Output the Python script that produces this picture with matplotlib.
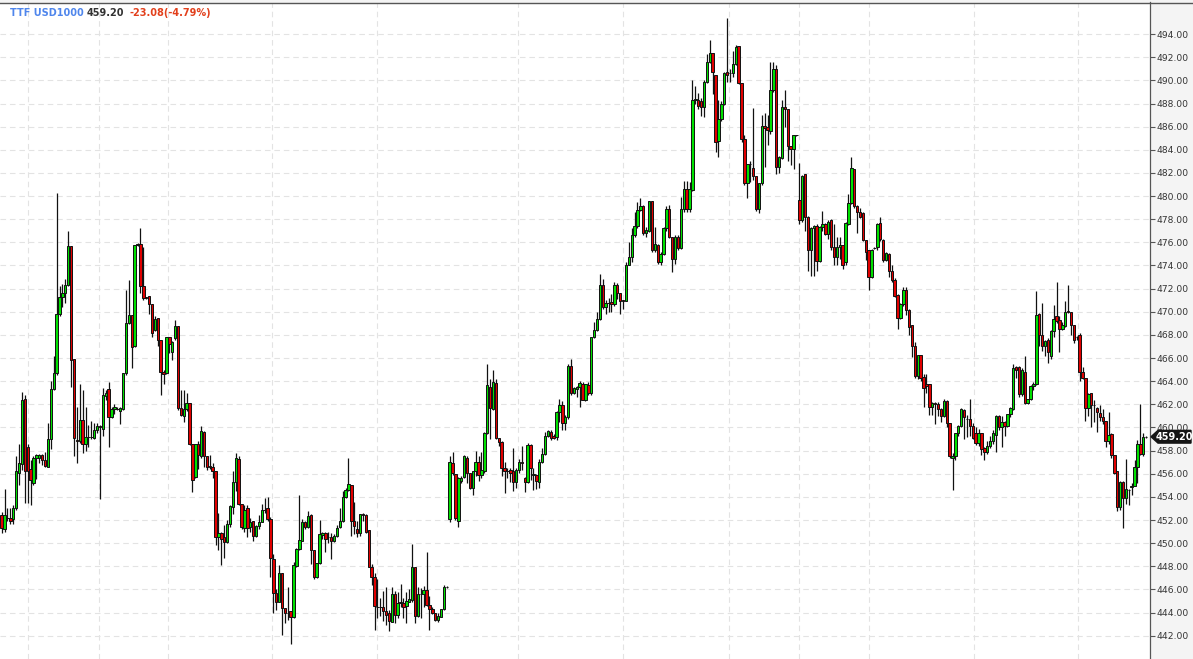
"""
TTF USD1000 candlestick chart, recreated with plain matplotlib.
"""

import matplotlib
matplotlib.use("Agg")
import matplotlib.pyplot as plt
import matplotlib.transforms as mtransforms
from matplotlib.lines import Line2D
from matplotlib.patches import Polygon
import numpy as np

# ── Data (one entry per candle) ───────────────────────────────────────────────

opens = [
    452.45, 451.2, 452.2, 452.2, 452.05, 453.0, 456.1, 456.85, 462.45, 458.35,
    456.4, 455.2, 457.35, 457.4, 457.6, 457.2, 456.6, 459.0, 463.3, 464.7,
    469.8, 471.25, 471.6, 472.3, 475.7, 465.9, 458.9, 458.8, 460.65, 458.55,
    459.15, 459.15, 459.05, 459.8, 460.1, 459.85, 462.7, 463.3, 460.9, 461.6,
    461.6, 461.45, 461.6, 464.7, 469.0, 469.7, 467.0, 475.75, 475.9, 472.2,
    471.3, 471.35, 470.7, 468.4, 469.5, 467.6, 464.8, 464.7, 467.8, 466.5,
    467.7, 468.8, 461.65, 461.0, 461.6, 462.15, 458.6, 455.75, 458.6, 457.55,
    459.65, 457.5, 456.7, 456.6, 456.2, 450.55, 450.85, 450.55, 450.1, 451.7,
    453.1, 455.3, 457.25, 453.4, 451.35, 453.0, 451.4, 451.9, 450.6, 451.5,
    451.85, 452.9, 453.0, 452.05, 448.6, 445.7, 444.95, 447.45, 444.4, 443.95,
    444.1, 443.6, 448.0, 449.5, 450.2, 451.8, 451.4, 452.45, 449.45, 447.1,
    448.3, 450.7, 450.85, 450.55, 450.55, 450.15, 450.6, 451.4, 451.9, 453.95,
    454.6, 455.0, 451.95, 451.2, 450.9, 452.5, 452.45, 451.1, 447.9, 447.05,
    444.5, 444.5, 444.5, 444.15, 444.0, 443.2, 445.6, 443.8, 444.8, 444.85,
    444.55, 444.95, 445.1, 447.9, 443.7, 445.65, 445.65, 445.95, 444.65, 444.3,
    443.95, 443.35, 443.65, 444.3, 446.2, 452.05, 456.9, 456.0, 451.9, 455.4,
    455.75, 457.4, 456.1, 454.75, 456.2, 456.98, 455.9, 456.2, 459.5, 463.5,
    461.6, 463.85, 459.05, 458.75, 456.5, 456.2, 456.3, 456.2, 455.3, 456.3,
    457.0, 455.6, 455.3, 458.5, 455.85, 455.9, 455.3, 457.05, 457.7, 459.3,
    459.58, 459.3, 459.2, 461.3, 461.9, 460.4, 460.9, 465.35, 462.95, 463.3,
    463.5, 463.8, 462.4, 463.7, 462.95, 467.8, 468.4, 469.4, 472.3, 470.4,
    470.8, 470.85, 470.7, 472.3, 471.6, 471.0, 470.95, 474.05, 474.7, 476.6,
    477.4, 478.8, 479.15, 476.8, 477.0, 479.55, 475.3, 475.8, 474.3, 475.0,
    477.2, 478.85, 476.5, 474.6, 476.5, 475.5, 478.9, 480.6, 478.9, 480.5,
    488.3, 488.3, 488.25, 487.7, 489.9, 491.6, 492.4, 490.5, 484.8, 486.7,
    488.0, 490.75, 490.65, 490.65, 491.4, 492.95, 489.75, 484.95, 481.1, 482.8,
    482.4, 481.7, 478.9, 481.1, 486.05, 486.0, 485.6, 489.2, 491.0, 482.5,
    483.3, 487.7, 487.5, 484.3, 484.1, 485.25, 479.65, 477.9, 481.9, 478.2,
    475.35, 477.2, 477.4, 474.4, 477.35, 477.6, 476.7, 477.9, 475.6, 474.7,
    475.6, 475.8, 474.3, 477.6, 479.4, 482.3, 479.1, 478.6, 478.55, 476.2,
    475.3, 473.0, 475.5, 475.6, 477.7, 476.2, 474.5, 474.98, 473.55, 472.75,
    471.45, 469.5, 470.7, 471.9, 470.15, 468.85, 467.0, 464.45, 466.25, 464.4,
    463.75, 463.75, 461.75, 462.1, 462.0, 461.6, 461.0, 462.25, 460.35, 457.35,
    457.5, 459.5, 460.1, 461.5, 460.7, 460.7, 460.1, 459.5, 458.7, 459.5,
    458.2, 457.9, 458.4, 458.8, 459.35, 461.0, 460.05, 460.5, 460.1, 461.15,
    461.6, 465.2, 465.2, 462.9, 464.8, 462.1, 462.5, 463.6, 463.8, 469.8,
    468.0, 467.0, 467.6, 466.2, 468.3, 469.6, 469.3, 468.5, 468.8, 470.1,
    470.0, 468.85, 467.8, 468.0, 464.82, 464.3, 461.65, 462.95, 461.9, 461.7,
    461.25, 460.9, 460.6, 458.85, 459.45, 457.6, 456.2, 453.15, 455.3, 453.9,
    454.6, 454.85, 454.95, 456.55, 458.6, 457.7, 459.15,
]

highs = [
    452.7, 454.65, 453.0, 453.0, 453.3, 457.5, 458.55, 463.1, 462.8, 458.6,
    457.2, 457.5, 457.7, 457.7, 457.7, 457.85, 460.4, 464.0, 466.2, 480.25,
    472.2, 472.4, 472.8, 477.0, 475.7, 465.9, 461.8, 463.8, 463.25, 461.8,
    460.2, 460.6, 460.4, 460.35, 460.2, 463.4, 463.25, 463.9, 461.8, 462.0,
    461.8, 461.8, 464.75, 471.9, 472.75, 469.7, 475.75, 475.95, 477.2, 475.6,
    471.3, 471.35, 470.7, 469.6, 469.5, 467.6, 464.95, 467.8, 467.8, 467.45,
    469.25, 468.8, 463.25, 463.25, 462.95, 462.15, 458.6, 458.6, 458.8, 460.1,
    459.7, 457.5, 457.6, 456.9, 456.2, 452.6, 451.0, 451.6, 452.0, 453.3,
    456.2, 457.8, 457.5, 453.4, 453.3, 453.3, 452.2, 451.9, 451.6, 452.4,
    453.4, 453.9, 453.95, 452.3, 449.1, 446.0, 448.1, 447.45, 444.4, 446.2,
    444.1, 448.4, 449.6, 454.2, 452.1, 451.9, 452.8, 452.5, 449.45, 448.3,
    452.0, 450.95, 451.0, 451.0, 450.9, 450.8, 451.6, 453.0, 454.5, 454.8,
    457.4, 455.0, 453.6, 451.9, 452.5, 452.6, 452.5, 451.1, 448.2, 447.4,
    446.9, 445.3, 445.9, 446.2, 444.2, 446.2, 445.9, 445.8, 446.5, 445.3,
    445.8, 446.0, 449.9, 447.9, 446.2, 446.1, 446.3, 449.2, 445.4, 444.5,
    444.0, 444.0, 444.35, 446.4, 446.3, 457.5, 457.9, 456.0, 455.7, 455.8,
    457.6, 457.5, 456.1, 456.2, 458.0, 457.5, 457.9, 459.6, 465.5, 464.2,
    465.0, 464.2, 459.1, 458.8, 457.0, 456.5, 456.5, 458.2, 456.5, 457.3,
    458.4, 455.7, 458.7, 458.6, 456.5, 456.0, 457.3, 458.2, 459.6, 459.8,
    459.8, 459.4, 461.4, 462.5, 462.3, 461.1, 465.5, 465.9, 463.5, 463.6,
    464.0, 463.9, 463.8, 463.9, 467.8, 469.1, 470.0, 473.3, 472.85, 471.0,
    471.2, 471.5, 472.55, 472.5, 471.6, 471.0, 474.3, 476.0, 477.2, 478.6,
    479.5, 479.8, 479.2, 477.3, 479.6, 479.6, 477.3, 475.9, 475.2, 477.3,
    479.1, 479.2, 476.5, 476.6, 476.6, 479.9, 481.3, 481.3, 481.2, 490.0,
    489.5, 488.9, 488.5, 490.0, 492.3, 493.5, 492.4, 490.5, 488.3, 488.2,
    490.7, 495.4, 491.0, 492.5, 493.1, 493.0, 489.75, 485.3, 482.8, 483.0,
    487.6, 481.7, 481.15, 487.0, 487.2, 487.0, 491.6, 491.6, 491.3, 483.5,
    488.3, 489.2, 487.5, 484.3, 485.3, 485.3, 482.9, 481.8, 481.9, 478.3,
    477.3, 477.5, 477.6, 477.4, 478.7, 477.7, 477.9, 478.0, 477.6, 476.5,
    476.5, 475.8, 477.8, 480.2, 483.4, 482.35, 479.2, 479.0, 478.6, 476.2,
    475.3, 475.4, 475.6, 477.7, 478.2, 476.3, 475.2, 475.1, 474.0, 472.9,
    471.5, 470.75, 472.1, 472.1, 470.2, 468.9, 467.4, 466.3, 466.3, 464.6,
    464.6, 463.8, 462.2, 462.2, 462.2, 461.7, 462.5, 462.35, 460.4, 457.8,
    459.5, 460.2, 461.65, 461.6, 461.1, 462.45, 460.4, 460.0, 459.9, 459.55,
    458.3, 458.8, 459.3, 459.8, 461.1, 461.1, 461.0, 460.6, 461.2, 461.8,
    465.5, 465.3, 465.3, 465.1, 466.2, 462.5, 463.7, 463.9, 471.8, 469.9,
    470.8, 467.6, 467.7, 468.4, 470.6, 472.6, 469.6, 469.1, 470.9, 472.3,
    470.0, 468.9, 467.9, 468.2, 465.2, 464.3, 463.0, 463.0, 462.4, 461.8,
    461.9, 461.6, 460.6, 461.3, 459.5, 457.6, 456.25, 455.4, 455.35, 457.3,
    454.7, 455.2, 457.2, 458.9, 462.0, 459.5, 459.3,
]

lows = [
    450.9, 451.0, 451.9, 451.7, 451.7, 452.9, 455.0, 456.3, 453.45, 453.45,
    453.3, 455.05, 455.55, 456.9, 456.8, 456.55, 456.55, 458.1, 463.2, 464.55,
    469.65, 470.45, 470.8, 472.25, 463.5, 457.5, 456.9, 458.65, 457.8, 458.0,
    458.35, 459.0, 459.0, 459.5, 453.8, 459.25, 462.4, 458.35, 460.85, 461.2,
    461.5, 460.3, 461.5, 464.55, 468.95, 465.1, 466.95, 475.65, 471.6, 471.0,
    471.1, 469.8, 467.85, 468.3, 467.0, 462.8, 463.8, 464.6, 466.4, 465.85,
    467.6, 461.55, 461.0, 460.5, 461.4, 458.5, 454.45, 455.6, 456.4, 457.4,
    456.6, 456.3, 456.4, 455.6, 449.85, 449.4, 448.1, 448.7, 450.0, 451.4,
    452.5, 454.5, 453.3, 451.2, 451.0, 450.5, 451.0, 450.2, 450.5, 451.2,
    451.8, 452.6, 451.9, 447.1, 444.0, 444.2, 444.9, 442.1, 443.1, 443.4,
    441.3, 443.5, 447.9, 449.4, 450.2, 451.2, 451.3, 448.2, 446.9, 447.0,
    448.2, 450.4, 449.2, 450.0, 448.6, 450.1, 450.5, 451.3, 451.8, 453.9,
    454.5, 450.6, 450.8, 450.5, 450.6, 451.9, 450.9, 447.9, 446.4, 442.5,
    443.5, 443.7, 443.3, 442.9, 442.4, 443.2, 443.1, 443.5, 444.5, 443.5,
    443.1, 444.9, 444.9, 443.1, 443.6, 443.5, 444.5, 444.6, 442.5, 443.9,
    443.3, 443.2, 443.6, 444.2, 446.1, 451.8, 455.9, 452.0, 451.4, 455.2,
    455.6, 455.2, 454.7, 454.2, 455.8, 455.4, 455.6, 456.1, 459.4, 459.0,
    461.5, 459.0, 458.4, 455.8, 454.3, 455.6, 455.3, 454.5, 454.8, 456.1,
    456.3, 454.4, 455.2, 455.5, 454.6, 454.7, 454.8, 456.9, 457.6, 459.2,
    458.9, 459.0, 458.9, 460.5, 459.8, 459.8, 460.7, 462.8, 462.9, 462.6,
    461.75, 462.4, 462.3, 462.8, 462.8, 467.7, 468.3, 469.3, 470.2, 469.8,
    470.0, 470.0, 470.5, 471.1, 469.8, 470.2, 470.95, 474.0, 474.3, 476.5,
    477.2, 478.7, 476.6, 476.5, 476.9, 475.2, 475.2, 474.1, 474.0, 474.9,
    477.0, 476.4, 473.4, 474.1, 475.3, 475.4, 478.6, 478.6, 478.6, 480.4,
    488.0, 487.5, 486.9, 486.8, 489.8, 491.5, 488.8, 483.8, 483.4, 486.5,
    487.9, 489.9, 489.9, 490.3, 491.3, 489.7, 484.7, 481.0, 479.8, 481.2,
    481.4, 478.7, 478.5, 481.0, 482.5, 484.4, 485.4, 489.0, 481.9, 482.0,
    483.2, 486.0, 483.0, 482.7, 482.3, 485.2, 477.6, 477.8, 477.0, 473.55,
    473.1, 473.1, 473.5, 474.3, 477.0, 476.6, 476.3, 475.3, 474.0, 474.0,
    474.6, 473.7, 474.0, 477.5, 479.3, 479.0, 476.85, 478.1, 476.1, 474.5,
    471.85, 472.9, 475.45, 475.3, 476.1, 474.3, 474.4, 473.0, 472.6, 471.3,
    468.5, 469.4, 470.5, 469.7, 468.0, 466.1, 464.3, 464.2, 464.0, 461.8,
    463.0, 461.1, 461.1, 460.3, 461.0, 460.5, 460.9, 460.0, 457.4, 454.6,
    457.2, 459.3, 460.0, 459.0, 459.2, 459.3, 459.0, 458.5, 458.4, 457.6,
    457.2, 457.7, 458.2, 458.6, 457.9, 459.8, 458.3, 459.3, 460.0, 460.9,
    461.5, 464.3, 462.6, 462.7, 462.0, 462.0, 462.4, 463.2, 463.7, 467.0,
    466.6, 466.2, 465.6, 465.9, 467.8, 469.0, 466.5, 468.4, 468.7, 469.9,
    468.0, 467.3, 467.6, 464.0, 464.2, 460.6, 461.0, 460.0, 460.5, 459.6,
    460.6, 460.3, 458.3, 458.6, 457.4, 456.0, 452.8, 452.9, 451.3, 453.4,
    453.3, 454.2, 454.9, 455.2, 457.6, 457.5, 459.1,
]

closes = [
    451.3, 452.45, 452.2, 451.95, 453.0, 456.25, 456.95, 462.4, 456.2, 456.2,
    455.45, 457.35, 457.6, 457.6, 457.2, 456.7, 459.0, 463.3, 464.7, 469.8,
    471.25, 471.65, 472.3, 475.7, 465.85, 459.05, 458.8, 460.65, 458.55, 459.15,
    459.15, 459.15, 459.8, 460.1, 460.05, 462.8, 463.0, 460.9, 461.6, 461.8,
    461.6, 461.7, 464.7, 469.05, 469.7, 466.95, 475.75, 475.85, 472.2, 471.2,
    471.15, 470.7, 468.2, 469.4, 467.55, 464.8, 464.6, 467.8, 467.2, 467.35,
    468.8, 461.65, 461.1, 461.6, 462.15, 458.6, 455.5, 458.6, 457.6, 459.7,
    457.5, 456.6, 456.55, 456.2, 450.55, 450.9, 450.4, 450.1, 451.7, 453.2,
    455.3, 457.35, 453.4, 451.4, 452.9, 451.3, 451.8, 450.6, 451.5, 451.85,
    452.9, 452.9, 452.05, 448.7, 445.7, 444.95, 447.45, 444.4, 443.95, 444.0,
    443.6, 448.1, 449.5, 450.3, 451.85, 451.4, 452.35, 449.4, 447.1, 448.3,
    450.8, 450.9, 450.4, 450.5, 450.2, 450.6, 451.35, 451.95, 453.95, 454.6,
    455.1, 451.95, 451.5, 450.9, 452.5, 452.4, 451.0, 447.9, 447.05, 444.6,
    444.45, 444.5, 444.1, 443.8, 443.3, 445.6, 443.8, 444.8, 444.95, 444.5,
    445.0, 445.15, 447.9, 443.7, 445.65, 445.65, 445.95, 444.65, 444.35, 444.0,
    443.35, 443.7, 444.3, 446.2, 446.2, 457.05, 456.1, 452.2, 455.6, 455.65,
    457.5, 456.1, 454.8, 456.2, 457.05, 455.9, 456.3, 459.5, 463.7, 461.65,
    463.9, 459.1, 458.75, 456.46, 456.2, 456.25, 456.1, 455.3, 456.3, 457.05,
    456.95, 455.25, 458.5, 456.46, 455.95, 455.4, 457.05, 457.7, 459.3, 459.7,
    459.1, 459.1, 461.3, 461.9, 460.35, 460.9, 465.3, 462.95, 463.4, 463.5,
    463.86, 462.4, 463.75, 463.0, 467.8, 468.4, 469.4, 472.3, 470.4, 470.8,
    470.8, 470.7, 472.3, 471.6, 470.9, 470.95, 474.05, 474.7, 476.6, 477.4,
    478.8, 479.1, 476.8, 477.05, 479.55, 475.3, 475.85, 474.3, 475.0, 477.2,
    478.85, 476.5, 474.6, 476.5, 475.5, 478.9, 480.65, 478.9, 480.6, 488.3,
    488.4, 487.8, 487.7, 489.9, 491.6, 492.4, 490.75, 484.7, 486.7, 488.0,
    490.6, 490.5, 490.6, 491.4, 492.85, 489.75, 484.9, 481.15, 482.8, 482.8,
    481.7, 478.9, 481.15, 486.05, 485.85, 485.7, 489.2, 491.0, 482.5, 483.4,
    487.7, 487.5, 484.3, 484.1, 485.25, 485.25, 477.9, 481.7, 478.2, 475.35,
    477.2, 477.4, 474.4, 477.35, 477.6, 476.7, 477.8, 475.6, 474.7, 475.6,
    475.8, 474.0, 477.7, 479.4, 482.4, 479.1, 478.65, 478.2, 476.2, 475.2,
    473.0, 475.3, 475.55, 477.6, 476.25, 474.5, 475.1, 473.5, 472.75, 471.35,
    469.5, 470.7, 471.9, 470.15, 468.65, 467.0, 464.45, 466.25, 464.25, 463.4,
    463.6, 461.75, 462.1, 462.05, 461.6, 461.0, 462.3, 460.35, 457.55, 457.55,
    459.5, 460.1, 461.6, 460.9, 460.7, 460.1, 459.05, 458.7, 459.55, 458.1,
    457.9, 458.4, 458.8, 459.55, 461.0, 460.0, 460.5, 460.1, 461.15, 461.65,
    465.1, 465.0, 462.9, 465.0, 462.1, 462.5, 463.6, 463.8, 469.7, 468.0,
    467.0, 467.5, 466.5, 468.3, 469.35, 469.2, 468.5, 468.9, 470.0, 470.0,
    468.85, 467.6, 467.8, 464.8, 464.25, 461.65, 462.9, 461.9, 461.9, 461.3,
    460.9, 460.6, 458.85, 459.35, 457.6, 456.1, 453.15, 455.3, 453.9, 454.65,
    454.6, 454.95, 456.55, 458.6, 457.7, 459.15, 459.2,
]

# candle positions where the dashed period separators sit
period_breaks = [9, 33.5, 57.5, 93.5, 130, 178.5, 215, 251.5, 276, 300, 336.5, 372.5]

price_ticks = list(range(442, 496, 2))
title_parts = [("TTF USD1000", "#4f86ec"), ("459.20", "#333333"),
               ("-23.08(-4.79%)", "#e2401c")]
last_label = "459.20"

# ── Plot ──────────────────────────────────────────────────────────────────────

W, H = 1193, 659
fig = plt.figure(figsize=(W / 100, H / 100), dpi=100, facecolor="#f4f4f4")
ax = fig.add_axes([0, 0, 1150 / W, (H - 2.5) / H])
ax.set_facecolor("white")

o = np.array(opens)
h = np.array(highs)
l = np.array(lows)
c = np.array(closes)
idx = np.arange(len(c))
up = c >= o
body_col = np.where(up, "#00e000", "#e00000")

ax.vlines(idx, l, h, color="#111111", lw=0.9, zorder=2)
ax.bar(idx, c - o, bottom=o, width=0.84, color=body_col,
       edgecolor="#111111", linewidth=0.7, zorder=3)

ax.set_xlim(-0.59, 397.34)
ax.set_ylim(439.99, 496.73)

# grid
ax.set_yticks(price_ticks)
ax.yaxis.grid(True, ls=(0, (5, 3.5)), color="#e3e3e3", lw=0.8)
for xb in period_breaks:
    ax.axvline(xb, ls=(0, (5, 3.5)), color="#e3e3e3", lw=0.8, zorder=1)
ax.set_axisbelow(True)

ax.set_xticks([])
ax.yaxis.tick_right()
ax.yaxis.set_major_formatter(matplotlib.ticker.FormatStrFormatter("%.2f"))
ax.tick_params(axis="y", which="major", length=3.5, width=0.8, color="#555555",
               pad=1.2, labelsize=6.6, labelcolor="#333333")
for side in ("left", "top", "bottom"):
    ax.spines[side].set_visible(False)
ax.spines["right"].set_color("#555555")
ax.spines["right"].set_linewidth(0.9)

# top border line across the whole figure
fig.add_artist(Line2D([0, 1], [1 - 2.5 / H, 1 - 2.5 / H],
                      transform=fig.transFigure, color="#555555", lw=1.0))

# title
for (txt, col), px in zip(title_parts, (10, 87, 129)):
    fig.text(px / W, 1 - 13 / H, txt, color=col, fontsize=7, fontweight="bold",
             va="center", ha="left")

# last price tag
blend = mtransforms.blended_transform_factory(fig.transFigure, ax.transData)
last = closes[-1]
tag = Polygon([(1151 / W, last), (1158 / W, last + 0.55), (1191 / W, last + 0.55),
               (1191 / W, last - 0.55), (1158 / W, last - 0.55)],
              closed=True, transform=blend, facecolor="#151515",
              edgecolor="#151515", clip_on=False, zorder=5)
fig.add_artist(tag)
fig.text(1174.5 / W, last, last_label, transform=blend, color="white",
         fontsize=7, fontweight="bold", ha="center", va="center", zorder=6)

fig.savefig("out.png", dpi=100, facecolor=fig.get_facecolor())
